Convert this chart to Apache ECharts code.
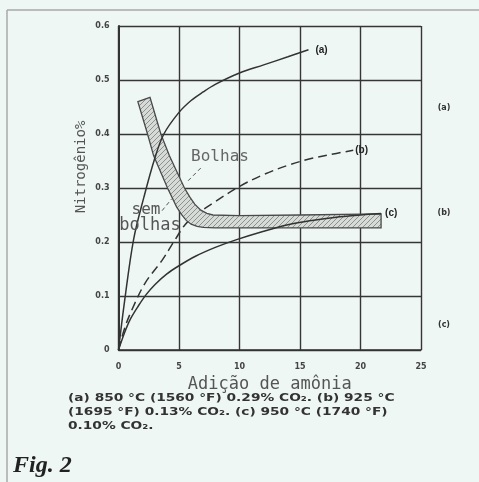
<!DOCTYPE html>
<html><head><meta charset="utf-8">
<script src="https://cdn.jsdelivr.net/npm/echarts@6/dist/echarts.min.js"></script>
<style>html,body{margin:0;padding:0;background:#eef7f4;}#c{width:479px;height:482px;}</style>
</head><body><div id="c"></div>
<script>
const xTicks = [0, 5, 10, 15, 20, 25];
const yTicks = [0, 0.1, 0.2, 0.3, 0.4, 0.5, 0.6];
const xTickLabels = ['0', '5', '10', '15', '20', '25'];
const yTickLabels = ['0', '0.1', '0.2', '0.3', '0.4', '0.5', '0.6'];
const xTitle = 'Adição de amônia';
const yTitle = 'Nitrogênio%';
const curveNames = ['(a)', '(b)', '(c)'];
const curveA = [[0,0],[0.5,0.09],[1.25,0.205],[2.1,0.283],[3.0,0.355],[3.75,0.40],[5,0.44],[6,0.462],[7,0.478],[8,0.492],[10,0.513],[12,0.528],[14,0.543],[15.7,0.556]];
const curveB = [[0,0],[0.5,0.04],[1.1,0.074],[2.2,0.124],[3.6,0.166],[4.7,0.205],[5.5,0.232],[6.5,0.252],[7.8,0.272],[10,0.303],[12,0.325],[14,0.342],[16,0.355],[18,0.364],[19.4,0.37]];
const curveC = [[0,0],[0.5,0.032],[1,0.058],[1.65,0.082],[2.3,0.103],[3,0.121],[4,0.141],[5,0.156],[6.4,0.174],[8,0.19],[9.7,0.204],[12,0.22],[14,0.232],[16,0.24],[18,0.246],[20,0.25],[21.7,0.253]];
const bandUpper = [[2.6,0.468],[3.5,0.4],[4.2,0.36],[5.45,0.30],[5.9,0.283],[6.3,0.27],[6.8,0.259],[7.3,0.253],[7.8,0.25],[10,0.249],[15,0.25],[21.7,0.252]];
const bandLower = [[1.6,0.46],[2.4,0.4],[2.9,0.36],[4.05,0.30],[4.8,0.265],[5.2,0.251],[5.6,0.24],[6.0,0.233],[6.5,0.229],[7,0.227],[8,0.226],[15,0.226],[21.7,0.226]];
const leaderBolhas = [[6.8,0.337],[5.6,0.31]];
const leaderSem = [[3.6,0.258],[4.4,0.28]];
const captionLines = ['(a) 850 °C (1560 °F) 0.29% CO₂. (b) 925 °C', '(1695 °F) 0.13% CO₂. (c) 950 °C (1740 °F)', '0.10% CO₂.'];

const pc = document.createElement('canvas'); pc.width = 5; pc.height = 5;
const g = pc.getContext('2d');
g.fillStyle = '#d6dbd7'; g.fillRect(0, 0, 5, 5);
g.strokeStyle = '#8c918d'; g.lineWidth = 1;
g.beginPath(); g.moveTo(0, 5); g.lineTo(5, 0); g.stroke();
const hatch = { image: pc, repeat: 'repeat' };

function fmt(ticks, labels) {
  return v => { const i = ticks.findIndex(t => Math.abs(t - v) < 1e-6); return i >= 0 ? labels[i] : ''; };
}
const mono = '"DejaVu Sans Mono"';
const chart = echarts.init(document.getElementById('c'), null, { renderer: 'canvas' });
const lineStyleBase = { color: '#333', width: 1.5 };
const capFont = 'bold 11px "DejaVu Sans"';
chart.setOption({
  animation: false,
  backgroundColor: '#eef7f4',
  grid: { left: 118.5, right: 58, top: 26, bottom: 132 },
  xAxis: {
    type: 'value', min: 0, max: 25, interval: 5,
    axisLine: { show: true, lineStyle: { color: '#333', width: 1.5 } },
    axisTick: { show: false },
    axisLabel: { formatter: fmt(xTicks, xTickLabels), color: '#444', fontSize: 8, fontWeight: 'bold', margin: 13, fontFamily: 'DejaVu Sans' },
    splitLine: { show: true, lineStyle: { color: '#363636', width: 1.4 } },
    name: xTitle, nameLocation: 'middle', nameGap: 22,
    nameTextStyle: { fontFamily: mono, fontSize: 17, color: '#555' }
  },
  yAxis: {
    type: 'value', min: 0, max: 0.6, interval: 0.1,
    axisLine: { show: true, lineStyle: { color: '#333', width: 2 } },
    axisTick: { show: false },
    axisLabel: { formatter: fmt(yTicks, yTickLabels), color: '#444', fontSize: 8, fontWeight: 'bold', margin: 9, fontFamily: 'DejaVu Sans' },
    splitLine: { show: true, lineStyle: { color: '#363636', width: 1.4 } }
  },
  series: [
    { type: 'line', data: curveB, smooth: 0.35, symbol: 'none', z: 1,
      lineStyle: { color: '#333', width: 1.5, type: [9, 5] },
      endLabel: { show: true, formatter: curveNames[1], color: '#222', fontSize: 10, fontWeight: 'bold', distance: 2 } },
    { type: 'custom', coordinateSystem: 'cartesian2d', data: [[0, 0]], z: 2, silent: true,
      renderItem: (params, api) => {
        const pts = bandUpper.map(p => api.coord(p)).concat(bandLower.slice().reverse().map(p => api.coord(p)));
        return { type: 'polygon', shape: { points: pts }, style: { fill: hatch, stroke: '#4a4a4a', lineWidth: 1.3 } };
      } },
    { type: 'line', data: curveA, smooth: 0.35, symbol: 'none', z: 3,
      lineStyle: lineStyleBase,
      endLabel: { show: true, formatter: curveNames[0], color: '#222', fontSize: 10, fontWeight: 'bold', distance: 7 } },
    { type: 'line', data: curveC, smooth: 0.35, symbol: 'none', z: 3,
      lineStyle: lineStyleBase,
      endLabel: { show: true, formatter: curveNames[2], color: '#222', fontSize: 10, fontWeight: 'bold', distance: 4 } },
    { type: 'line', data: leaderBolhas, symbol: 'none', z: 3, lineStyle: { color: '#555', width: 1, type: [4, 3] } },
    { type: 'line', data: leaderSem, symbol: 'none', z: 3, lineStyle: { color: '#555', width: 1, type: [4, 3] } }
  ],
  graphic: [
    { type: 'line', shape: { x1: 7, y1: 10, x2: 479, y2: 10 }, style: { stroke: '#aaa', lineWidth: 1.5 } },
    { type: 'line', shape: { x1: 7, y1: 10, x2: 7, y2: 482 }, style: { stroke: '#aaa', lineWidth: 1.5 } },
    { type: 'text', x: 81, y: 167, rotation: Math.PI / 2, style: { text: yTitle, font: '14px ' + mono, fill: '#555', align: 'center', verticalAlign: 'middle' } },
    { type: 'text', x: 220, y: 157, z: 10, style: { text: 'Bolhas', font: '16px ' + mono, fill: '#666', align: 'center', verticalAlign: 'middle' } },
    { type: 'text', x: 146, y: 210, z: 10, style: { text: 'sem', font: '16px ' + mono, fill: '#555', align: 'center', verticalAlign: 'middle' } },
    { type: 'text', x: 150, y: 226, z: 10, style: { text: 'bolhas', font: '17px ' + mono, fill: '#555', align: 'center', verticalAlign: 'middle' } },
    { type: 'text', x: 444, y: 108, style: { text: curveNames[0], font: 'bold 8px "DejaVu Sans"', fill: '#333', align: 'center', verticalAlign: 'middle' } },
    { type: 'text', x: 444, y: 213, style: { text: curveNames[1], font: 'bold 8px "DejaVu Sans"', fill: '#333', align: 'center', verticalAlign: 'middle' } },
    { type: 'text', x: 444, y: 325, style: { text: curveNames[2], font: 'bold 8px "DejaVu Sans"', fill: '#333', align: 'center', verticalAlign: 'middle' } },
    { type: 'text', x: 68, y: 398, scaleX: 1.25, style: { text: captionLines[0], font: capFont, fill: '#333', verticalAlign: 'middle' } },
    { type: 'text', x: 68, y: 412, scaleX: 1.25, style: { text: captionLines[1], font: capFont, fill: '#333', verticalAlign: 'middle' } },
    { type: 'text', x: 68, y: 426, scaleX: 1.25, style: { text: captionLines[2], font: capFont, fill: '#333', verticalAlign: 'middle' } },
    { type: 'text', x: 13, y: 466, style: { text: 'Fig. 2', font: 'italic bold 24px "Liberation Serif"', fill: '#222', verticalAlign: 'middle' } }
  ]
});
</script>
</body></html>
